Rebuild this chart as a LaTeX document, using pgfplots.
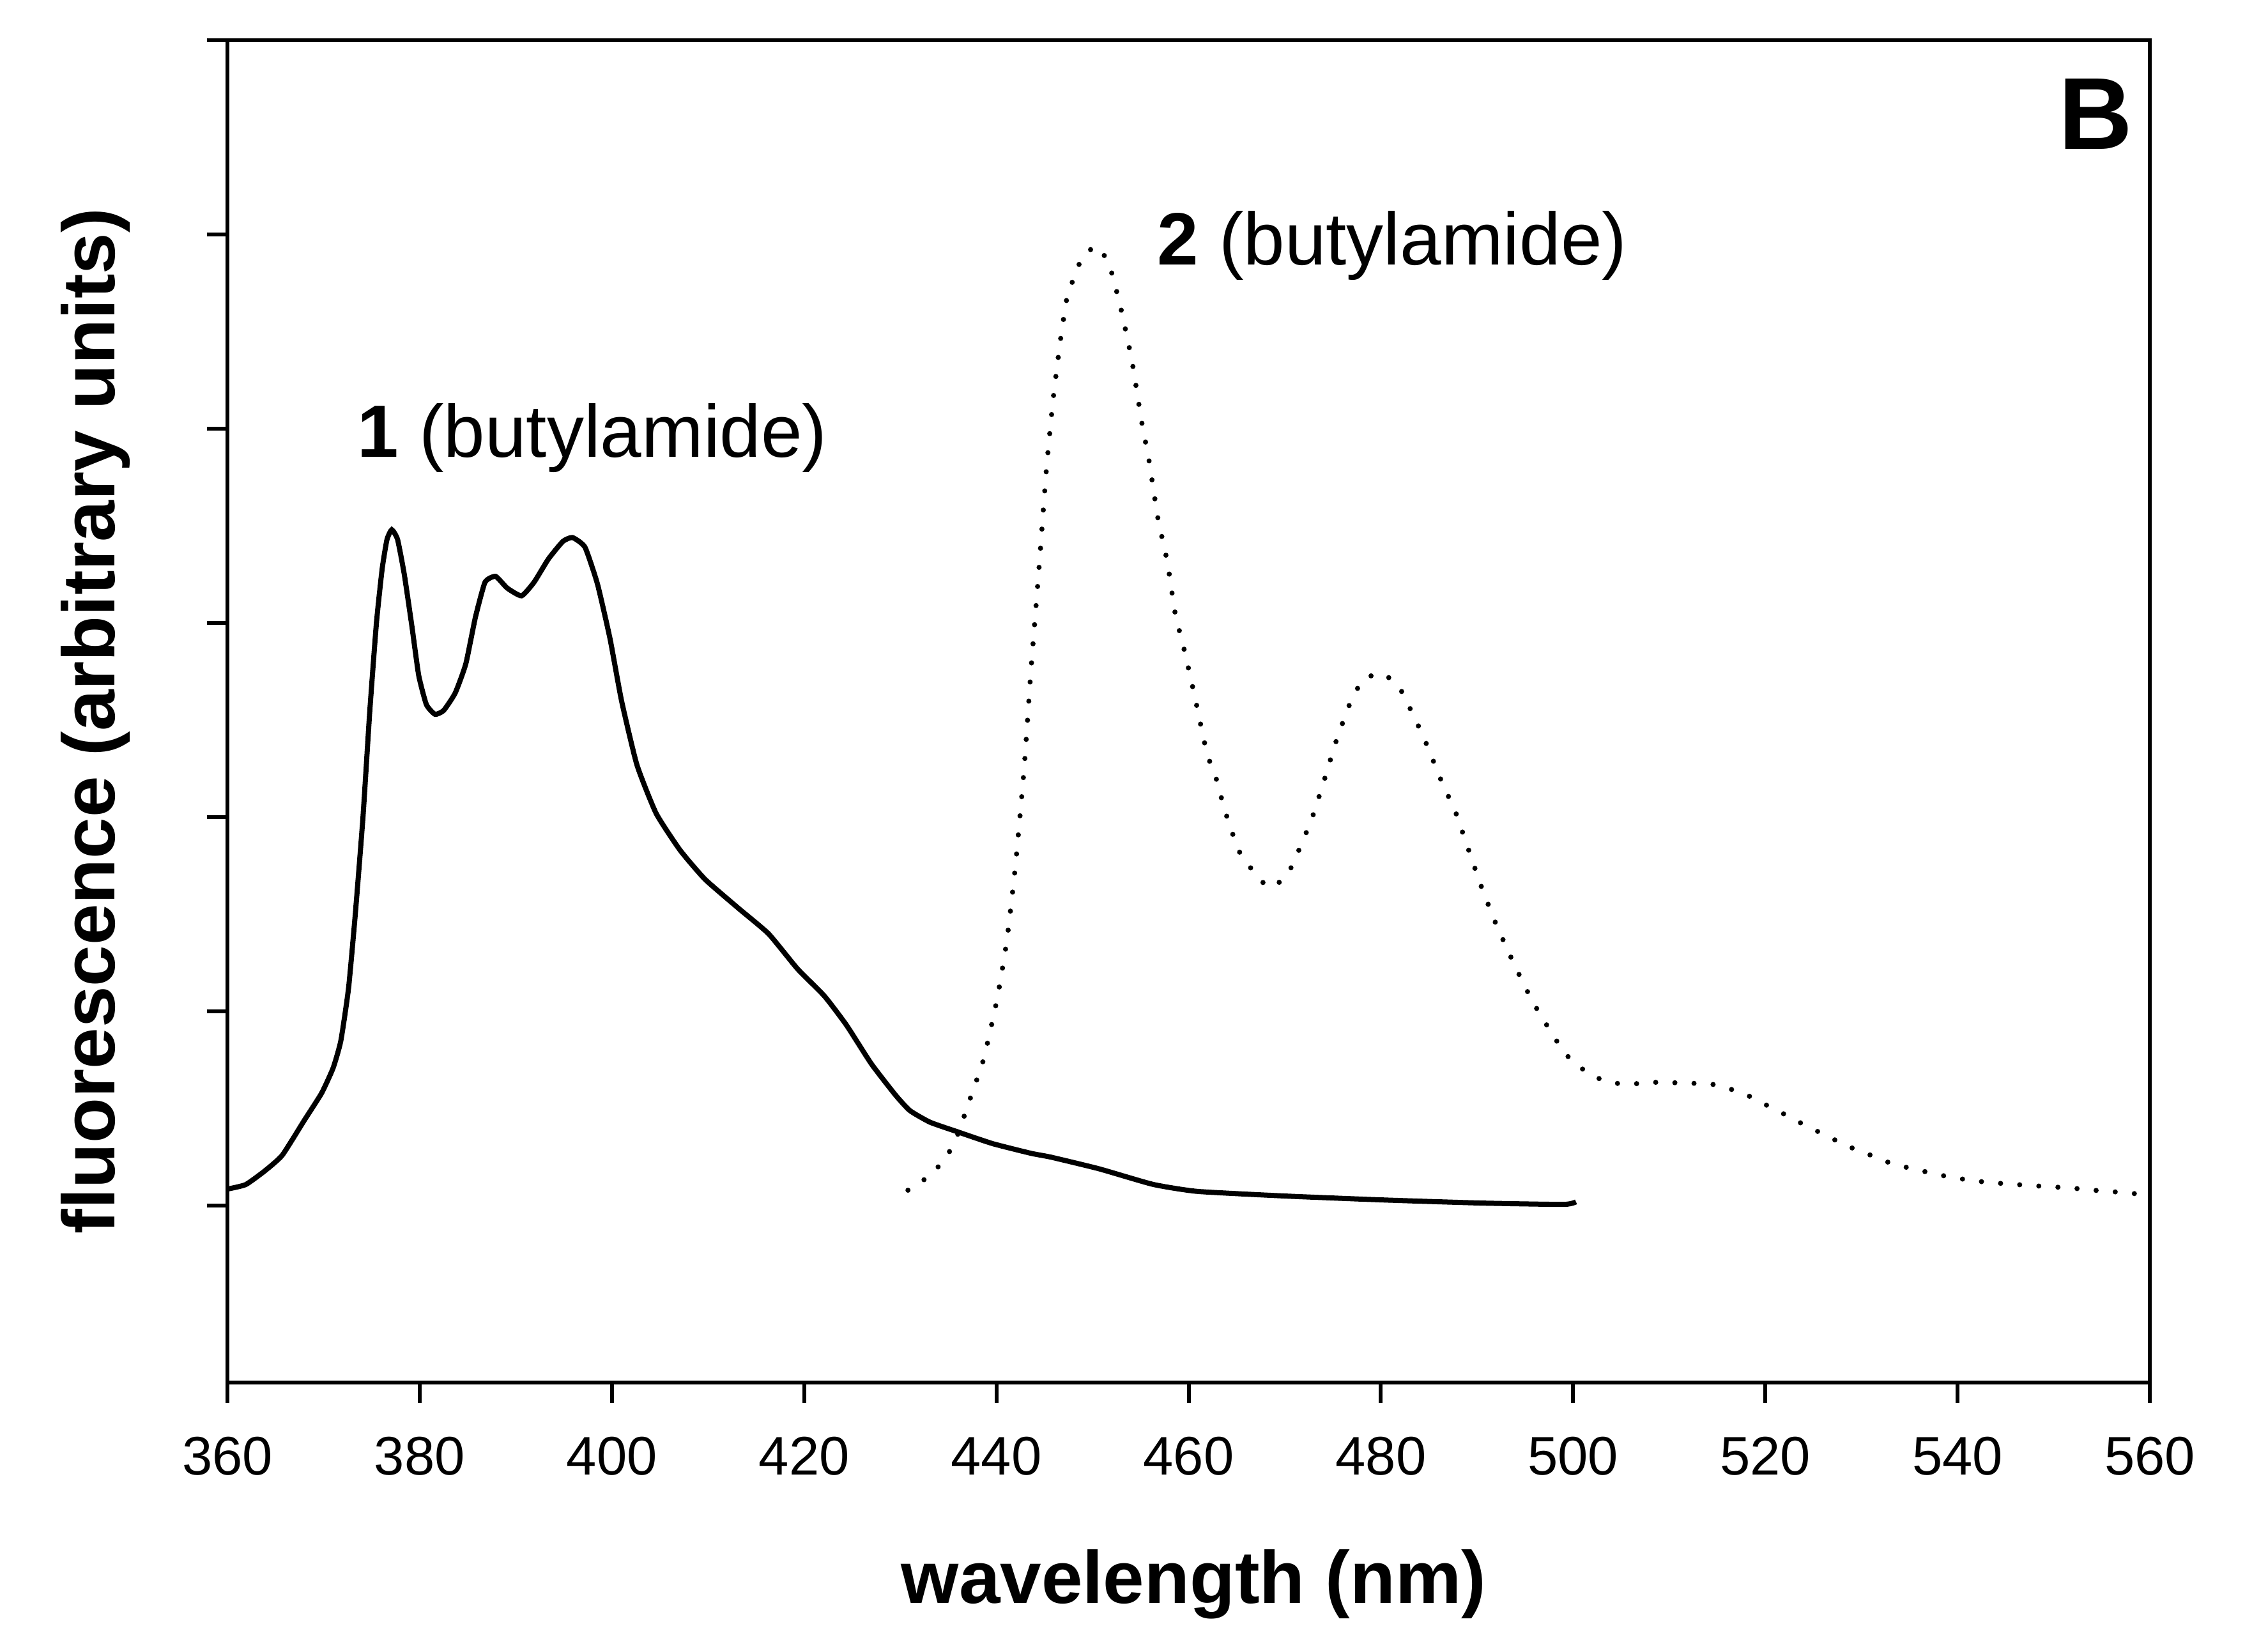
\documentclass[border=0pt]{standalone}
\usepackage{fontspec}
\setmainfont{Liberation Sans}
\usepackage{pgfplots}
\pgfplotsset{compat=1.18}

\begin{document}
\begin{tikzpicture}
  % page frame, so that the margins match the original figure
  \path (-35.6pt,-39.8pt) rectangle (319.4pt,216.4pt);
  \begin{axis}[
      at={(0,0)}, anchor=south west,
      scale only axis,
      width=300.9pt, height=210.1pt,
      xmin=360, xmax=560,
      ymin=-0.91, ymax=6,
      xtick={360,380,...,560},
      ytick={0,1,...,6},
      yticklabels={},
      xtick pos=bottom, ytick pos=left,
      tick align=outside,
      major tick length=3.2pt,
      every tick/.style={black, line width=0.6pt},
      axis line style={line width=0.6pt},
      /pgf/number format/assume math mode=true,
      /pgf/number format/1000 sep={},
      xticklabel style={font=\fontsize{8.5}{10}\selectfont, yshift=-1.8pt},
      xlabel={\textbf{wavelength (nm)}},
      xlabel style={font=\fontsize{11.6}{14}\selectfont,
        at={(axis description cs:0.5,0)}, anchor=base, yshift=-34.5pt, xshift=0.8pt},
      ylabel={\textbf{fluorescence (arbitrary units)}},
      ylabel style={font=\fontsize{11.6}{14}\selectfont,
        at={([xshift=-17.6pt,yshift=-1.5pt]axis description cs:0,0.5)}, anchor=base},
      clip=false,
    ]
    % 1 (butylamide), solid
    \addplot[black, line width=0.8pt, smooth, tension=0.3] coordinates {
      (360.0,0.086) (361.9,0.109) (363.9,0.18) (365.7,0.26) (368.0,0.44)
      (369.8,0.58) (371.0,0.71) (371.8,0.85) (372.6,1.12) (373.3,1.50)
      (374.1,2.00) (374.8,2.54) (375.5,3.00) (376.1,3.28) (376.6,3.43)
      (377.1,3.48) (377.7,3.43) (378.4,3.25) (379.2,2.98) (379.9,2.73)
      (380.7,2.58) (381.6,2.53) (382.5,2.55) (383.7,2.64) (384.8,2.79)
      (385.8,3.03) (386.8,3.21) (387.9,3.24) (389.1,3.18) (390.6,3.14)
      (391.9,3.21) (393.4,3.33) (394.9,3.42) (395.9,3.44) (397.2,3.39)
      (398.5,3.20) (399.8,2.92) (401.0,2.60) (402.6,2.27) (404.6,2.02)
      (407.1,1.83) (409.7,1.68) (413.2,1.53) (416.3,1.40) (419.3,1.22)
      (422.1,1.08) (424.4,0.93) (427.0,0.73) (429.5,0.57) (431.0,0.49)
      (433.1,0.43) (436.0,0.38) (439.6,0.32) (443.6,0.27) (445.7,0.25)
      (450.7,0.19) (456.3,0.11) (460.9,0.074) (470.1,0.05) (480.2,0.03)
      (490.4,0.014) (499.0,0.007) (500.3,0.02)
    };
    % 2 (butylamide), dotted
    \addplot[black, line width=0.8pt, line cap=round,
             dash pattern=on 0pt off 3pt, smooth, tension=0.3] coordinates {
      (430.8,0.08) (433.2,0.16) (434.9,0.26) (436.0,0.37) (437.4,0.57)
      (438.7,0.76) (440.1,1.07) (441.1,1.37) (442.0,1.76) (442.9,2.26)
      (443.6,2.76) (444.4,3.26) (445.2,3.79) (445.9,4.15) (446.7,4.47)
      (447.4,4.69) (448.2,4.79) (448.9,4.88) (450.4,4.94) (451.7,4.85)
      (452.9,4.63) (454.1,4.35) (455.1,4.04) (455.9,3.83) (456.8,3.54)
      (457.8,3.31) (458.6,3.05) (459.6,2.85) (460.6,2.63) (461.9,2.33)
      (462.8,2.21) (463.8,2.03) (465.2,1.83) (466.6,1.73) (468.3,1.64)
      (470.1,1.69) (471.2,1.80) (472.8,1.99) (474.1,2.19) (475.4,2.40)
      (476.9,2.60) (478.2,2.71) (480.1,2.74) (481.9,2.67) (484.0,2.46)
      (484.8,2.37) (486.6,2.15) (487.6,2.05) (489.0,1.85) (490.4,1.65)
      (491.9,1.46) (493.8,1.25) (495.8,1.05) (498.2,0.855) (499.7,0.755)
      (501.8,0.675) (503.8,0.635) (505.9,0.626) (507.9,0.635) (509.9,0.635)
      (511.9,0.63) (514.0,0.63) (516.1,0.605) (518.2,0.567) (520.2,0.516)
      (522.3,0.463) (524.3,0.41) (526.4,0.36) (528.4,0.31) (530.5,0.27)
      (532.4,0.23) (534.5,0.20) (536.6,0.176) (538.6,0.154) (540.7,0.136)
      (542.7,0.123) (544.8,0.114) (546.8,0.107) (548.9,0.10) (550.9,0.094)
      (553.0,0.086) (555.0,0.076) (557.1,0.069) (559.1,0.059)
    };
    \node[anchor=base west, inner sep=0pt, font=\fontsize{11.6}{14}\selectfont]
      at (axis cs:373.4,3.855) {\textbf{1} (butylamide)};
    \node[anchor=base west, inner sep=0pt, font=\fontsize{11.6}{14}\selectfont]
      at (axis cs:456.6,4.845) {\textbf{2} (butylamide)};
    \node[anchor=base west, inner sep=0pt, font=\fontsize{16}{19}\selectfont\bfseries]
      at (axis cs:550.4,5.44) {B};
  \end{axis}
\end{tikzpicture}
\end{document}
